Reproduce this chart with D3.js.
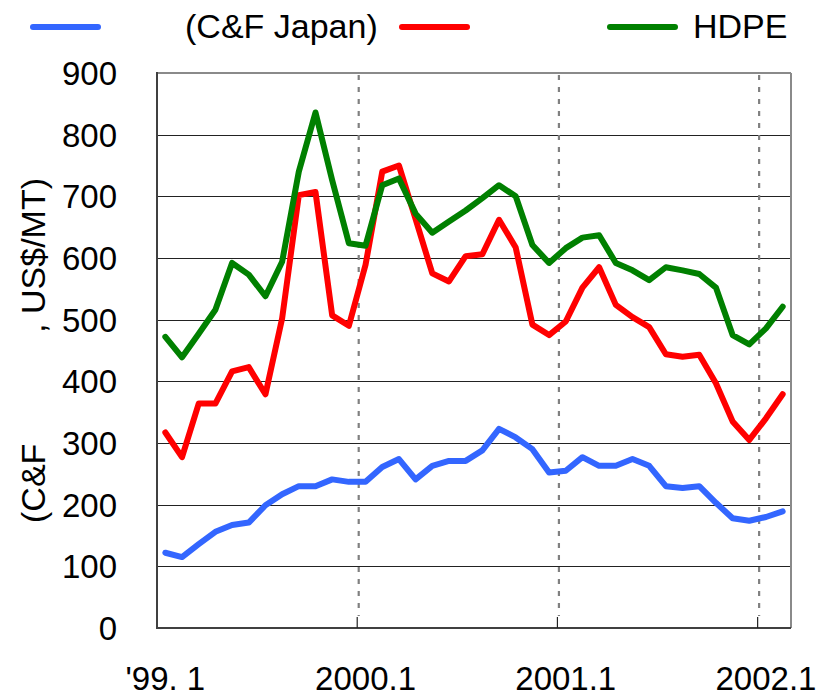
<!DOCTYPE html>
<html>
<head>
<meta charset="utf-8">
<script src="https://cdn.jsdelivr.net/npm/d3@7"></script>
<style>
  html, body { margin: 0; padding: 0; background: #fff; }
  svg text { font-family: "Liberation Sans", Arial, sans-serif; fill: #000; }
</style>
</head>
<body>
<svg id="chart" width="820" height="696"></svg>
<script>
// ---- data ----
const months = d3.range(38).map(i => (1999 + Math.floor(i / 12)) + "." + (i % 12 + 1));
const tickIndex = [0, 12, 24, 36];
const tickLabels = ["'99. 1", "2000.1", "2001.1", "2002.1"];
const yTicks = [0, 100, 200, 300, 400, 500, 600, 700, 800, 900];

const naphtha = [122,115,136,156,167,171,199,217,230,230,241,237,237,261,274,241,263,271,271,288,323,309,290,252,255,277,263,263,274,263,230,227,230,203,178,174,180,189];
const ethylene = [317,277,364,364,416,423,379,502,702,707,507,490,589,740,750,663,575,562,603,606,662,617,492,475,497,552,585,524,504,488,444,440,443,397,335,305,340,379];
const hdpe = [472,439,477,516,592,573,538,594,740,836,726,624,620,718,729,672,641,659,677,697,718,700,621,592,616,633,637,592,580,564,585,580,574,552,475,460,486,521];

const seriesNames = ["", "", "HDPE"];
const legendPrefix = "(C&F Japan)";
const yTitleA = "(C&F";
const yTitleB = ", US$/MT)";

// ---- layout ----
const svg = d3.select("#chart");
const L = 157, R = 791, T = 73, B = 628;
const x = d3.scaleBand().domain(d3.range(months.length)).range([L, R]);
const y = d3.scaleLinear().domain([0, 900]).range([B, T]);

// horizontal gridlines
svg.append("g").selectAll("line").data(yTicks.filter(v => v > 0 && v < 900)).join("line")
  .attr("x1", L).attr("x2", R)
  .attr("y1", d => Math.round(y(d)) + 0.5).attr("y2", d => Math.round(y(d)) + 0.5)
  .attr("stroke", "#222").attr("stroke-width", 1.2);

// vertical dotted year lines
svg.append("g").selectAll("line").data(tickIndex.slice(1)).join("line")
  .attr("x1", d => x(d) + 1.5).attr("x2", d => x(d) + 1.5)
  .attr("y1", T + 2).attr("y2", B - 12)
  .attr("stroke", "#808080").attr("stroke-width", 2.2)
  .attr("stroke-dasharray", "5,7");

// frame
svg.append("line").attr("x1", L).attr("x2", R).attr("y1", T).attr("y2", T)
  .attr("stroke", "#8a8a8a").attr("stroke-width", 2);
svg.append("line").attr("x1", R).attr("x2", R).attr("y1", T).attr("y2", B)
  .attr("stroke", "#8a8a8a").attr("stroke-width", 2);
svg.append("line").attr("x1", L).attr("x2", L).attr("y1", T - 1).attr("y2", B + 1)
  .attr("stroke", "#404040").attr("stroke-width", 2);
svg.append("line").attr("x1", L).attr("x2", R).attr("y1", B).attr("y2", B)
  .attr("stroke", "#404040").attr("stroke-width", 2);

// x ticks (inward, at year boundaries)
svg.append("g").selectAll("line").data(tickIndex.slice(1)).join("line")
  .attr("x1", d => x(d)).attr("x2", d => x(d))
  .attr("y1", B - 11).attr("y2", B)
  .attr("stroke", "#222").attr("stroke-width", 1.2);

// y tick labels
svg.append("g").selectAll("text").data(yTicks).join("text")
  .attr("x", 117).attr("y", d => y(d)).attr("dy", "0.36em")
  .attr("text-anchor", "end").attr("font-size", 33)
  .text(d => d);

// x tick labels
svg.append("g").selectAll("text").data(tickIndex).join("text")
  .attr("x", (d, i) => x(d) + x.bandwidth() / 2)
  .attr("y", 690).attr("text-anchor", "middle").attr("font-size", 33)
  .text((d, i) => tickLabels[i]);

// y axis title (rotated)
const yt = svg.append("g").attr("transform", "translate(45,0) rotate(-90)");
yt.append("text").attr("x", -523).attr("y", 0).attr("font-size", 34)
  .attr("text-anchor", "start").text(yTitleA);
yt.append("text").attr("x", -178).attr("y", 0).attr("font-size", 34)
  .attr("text-anchor", "end").text(yTitleB);

// series lines
const line = d3.line().x((d, i) => x(i) + x.bandwidth() / 2).y(d => y(d));
const series = [
  { values: naphtha, color: "#3366FF" },
  { values: ethylene, color: "#FF0000" },
  { values: hdpe, color: "#008000" }
];
svg.append("g").selectAll("path").data(series).join("path")
  .attr("d", d => line(d.values))
  .attr("fill", "none").attr("stroke", d => d.color)
  .attr("stroke-width", 6).attr("stroke-linejoin", "round").attr("stroke-linecap", "round");

// legend
const legendItems = [
  { x: 33, color: "#3366FF", label: seriesNames[0] },
  { x: 402, color: "#FF0000", label: seriesNames[1] },
  { x: 610, color: "#008000", label: seriesNames[2] }
];
const lg = svg.append("g");
lg.selectAll("line").data(legendItems).join("line")
  .attr("x1", d => d.x).attr("x2", d => d.x + 65)
  .attr("y1", 27).attr("y2", 27)
  .attr("stroke", d => d.color).attr("stroke-width", 6).attr("stroke-linecap", "round");
lg.selectAll("text.lbl").data(legendItems).join("text").attr("class", "lbl")
  .attr("x", d => d.x + 83).attr("y", 38).attr("font-size", 34)
  .text(d => d.label);
lg.append("text").attr("x", 185).attr("y", 38).attr("font-size", 34).text(legendPrefix);
</script>
</body>
</html>
